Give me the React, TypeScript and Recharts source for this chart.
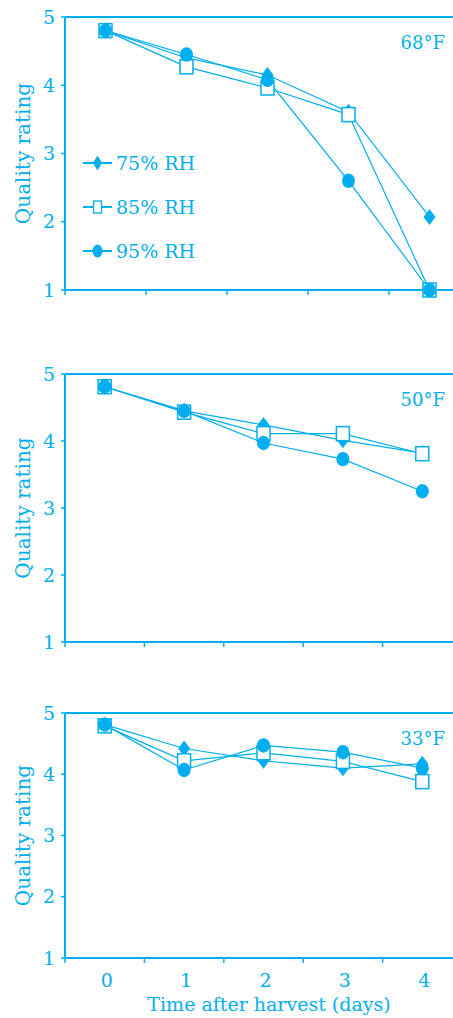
import React from 'react';
import { LineChart, Line, XAxis, YAxis, Legend, ReferenceLine } from 'recharts';

const CYAN = '#00AEEF';
const FONT = '"DejaVu Serif", serif';

const days = [0, 1, 2, 3, 4];
const yTicks = [1, 2, 3, 4, 5];
const xTicks = [-0.5, 0, 0.5, 1, 1.5, 2, 2.5, 3, 3.5, 4];
const seriesNames = ['75% RH', '85% RH', '95% RH'];
const temps = ['68°F', '50°F', '33°F'];
const xTitle = 'Time after harvest (days)';
const yTitle = 'Quality rating';

// 68°F
const rh75_68 = [4.8, 4.4, 4.15, 3.61, 2.07];
const rh85_68 = [4.8, 4.27, 3.96, 3.57, 1.0];
const rh95_68 = [4.8, 4.45, 4.08, 2.6, 1.0];
// 50°F
const rh75_50 = [4.81, 4.45, 4.24, 4.01, 3.82];
const rh85_50 = [4.81, 4.43, 4.11, 4.11, 3.81];
const rh95_50 = [4.81, 4.45, 3.97, 3.73, 3.25];
// 33°F
const rh75_33 = [4.81, 4.42, 4.22, 4.1, 4.17];
const rh85_33 = [4.79, 4.22, 4.35, 4.21, 3.88];
const rh95_33 = [4.81, 4.07, 4.47, 4.36, 4.1];

const build = (a: number[], b: number[], c: number[]) =>
  days.map((d, i) => ({ day: d, rh75: a[i], rh85: b[i], rh95: c[i] }));

const data68 = build(rh75_68, rh85_68, rh95_68);
const data50 = build(rh75_50, rh85_50, rh95_50);
const data33 = build(rh75_33, rh85_33, rh95_33);

const DiamondDot = (p: any) => {
  const { cx, cy } = p;
  if (cx == null || cy == null) return null;
  return (
    <polygon
      key={`d-${cx}-${cy}`}
      points={`${cx},${cy - 8} ${cx + 6},${cy} ${cx},${cy + 8} ${cx - 6},${cy}`}
      fill={CYAN}
    />
  );
};

const SquareDot = (p: any) => {
  const { cx, cy } = p;
  if (cx == null || cy == null) return null;
  return <rect key={`s-${cx}-${cy}`} x={cx - 6.5} y={cy - 7} width={13} height={14} fill="#fff" stroke={CYAN} strokeWidth={1.5} />;
};

const CircleDot = (p: any) => {
  const { cx, cy } = p;
  if (cx == null || cy == null) return null;
  return <ellipse key={`c-${cx}-${cy}`} cx={cx} cy={cy} rx={6.5} ry={7.2} fill={CYAN} />;
};

const XTick = ({ x, y, payload, showLabels }: any) => {
  const v = payload.value;
  if (Math.abs(v % 1) === 0.5) {
    return <line x1={x} y1={y} x2={x} y2={y + 5} stroke={CYAN} strokeWidth={1.5} />;
  }
  if (!showLabels) return null;
  return (
    <text x={x + 2} y={y + 29} textAnchor="middle" fill={CYAN} fontSize={19} fontFamily={FONT}>
      {v}
    </text>
  );
};

const LegendBox = () => {
  const marks = [
    <polygon key="m0" points="14.5,2.5 19,10 14.5,17.5 10,10" fill={CYAN} />,
    <rect key="m1" x={10.5} y={4} width={8} height={12} fill="#fff" stroke={CYAN} strokeWidth={1.3} />,
    <ellipse key="m2" cx={14.5} cy={10} rx={5} ry={6.5} fill={CYAN} />,
  ];
  return (
    <div style={{ fontFamily: FONT, color: CYAN, fontSize: 19 }}>
      {seriesNames.map((n, i) => (
        <div key={n} style={{ display: 'flex', alignItems: 'center', height: 44 }}>
          <svg width={33} height={20} style={{ display: 'block' }}>
            <line x1={0} y1={10} x2={29} y2={10} stroke={CYAN} strokeWidth={2} />
            {marks[i]}
          </svg>
          <span style={{ lineHeight: 1, whiteSpace: 'nowrap' }}>{n}</span>
        </div>
      ))}
    </div>
  );
};

interface PanelProps {
  data: any[];
  temp: string;
  top: number;
  width: number;
  plotH: number;
  xAxisH: number;
  legend?: boolean;
  xLabels?: boolean;
}

const Panel: React.FC<PanelProps> = ({ data, temp, top, width, plotH, xAxisH, legend, xLabels }) => {
  const height = 17 + plotH + xAxisH;
  return (
    <div style={{ position: 'absolute', left: 0, top }}>
      <LineChart width={width} height={height} data={data} margin={{ top: 17, right: 0, bottom: 0, left: 0 }}>
        <XAxis
          dataKey="day"
          type="number"
          domain={[-0.5, 4.5]}
          ticks={xTicks}
          interval={0}
          height={xAxisH}
          tickSize={0}
          tickMargin={0}
          tickLine={false}
          axisLine={{ stroke: CYAN, strokeWidth: 2 }}
          tick={(p: any) => <XTick {...p} showLabels={xLabels} />}
        />
        <YAxis
          type="number"
          domain={[1, 5]}
          ticks={yTicks}
          interval={0}
          width={65}
          tickSize={4}
          tickMargin={6}
          axisLine={{ stroke: CYAN, strokeWidth: 2 }}
          tickLine={{ stroke: CYAN, strokeWidth: 1.5 }}
          tick={{ fill: CYAN, fontSize: 19, fontFamily: FONT }}
        />
        <ReferenceLine y={5} stroke={CYAN} strokeWidth={2} />
        <Line type="linear" dataKey="rh75" stroke={CYAN} strokeWidth={1.2} dot={DiamondDot} activeDot={false} isAnimationActive={false} />
        <Line type="linear" dataKey="rh85" stroke={CYAN} strokeWidth={1.2} dot={SquareDot} activeDot={false} isAnimationActive={false} />
        <Line type="linear" dataKey="rh95" stroke={CYAN} strokeWidth={1.2} dot={CircleDot} activeDot={false} isAnimationActive={false} />
        {legend && (
          <Legend
            layout="vertical"
            align="center"
            verticalAlign="middle"
            wrapperStyle={{ left: 83, top: 141, width: 140 }}
            content={() => <LegendBox />}
          />
        )}
        <text x={445} y={49} textAnchor="end" fill={CYAN} fontSize={18} fontFamily={FONT}>
          {temp}
        </text>
        <text
          transform={`translate(30, ${17 + plotH / 2}) rotate(-90)`}
          textAnchor="middle"
          fill={CYAN}
          fontSize={20}
          fontFamily={FONT}
        >
          {yTitle}
        </text>
        {xLabels && (
          <text x={269} y={315} textAnchor="middle" fill={CYAN} fontSize={19} fontFamily={FONT}>
            {xTitle}
          </text>
        )}
      </LineChart>
    </div>
  );
};

export default function App() {
  return (
    <div style={{ position: 'absolute', left: 0, top: 0, width: 453, height: 1018, overflow: 'hidden', background: '#fff' }}>
      <Panel data={data68} temp={temps[0]} top={0} width={470} plotH={273} xAxisH={10} legend />
      <Panel data={data50} temp={temps[1]} top={357} width={462} plotH={268} xAxisH={10} />
      <Panel data={data33} temp={temps[2]} top={696} width={462} plotH={245} xAxisH={60} xLabels />
    </div>
  );
}
